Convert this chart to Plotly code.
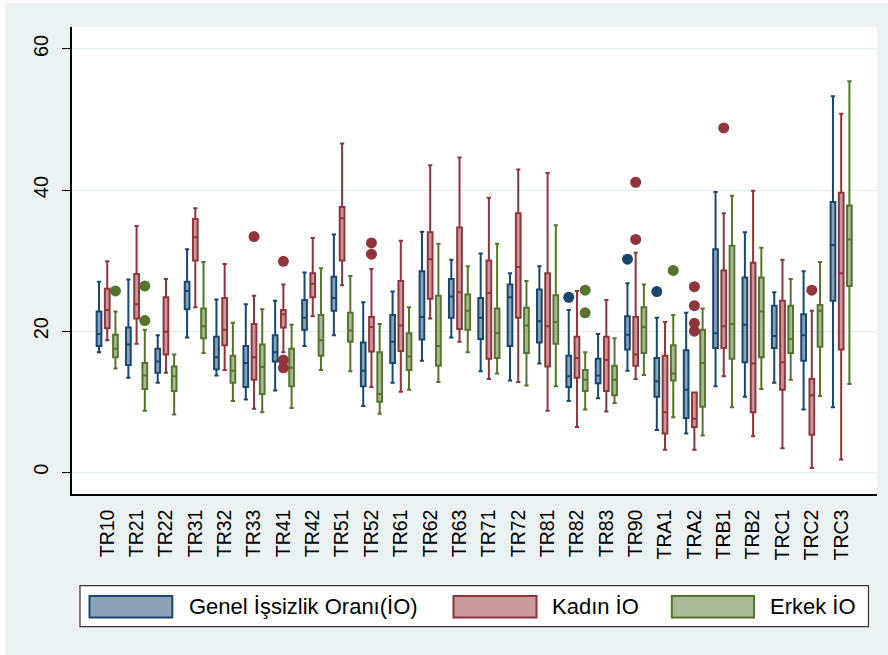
import plotly.graph_objects as go

categories = ["TR10", "TR21", "TR22", "TR31", "TR32", "TR33", "TR41", "TR42", "TR51", "TR52",
              "TR61", "TR62", "TR63", "TR71", "TR72", "TR81", "TR82", "TR83", "TR90", "TRA1",
              "TRA2", "TRB1", "TRB2", "TRC1", "TRC2", "TRC3"]

series_names = ["Genel İşsizlik Oranı(İO)", "Kadın İO", "Erkek İO"]

# Genel İşsizlik Oranı: lower whisker, q1, median, q3, upper whisker
genel_lo  = [17.0, 13.4, 12.7, 19.1, 13.7, 10.3, 11.6, 17.9, 19.4, 9.4, 12.7, 15.8, 19.1, 14.3, 13.0, 15.4, 10.1, 10.5, 14.4, 6.0, 5.5, 12.2, 10.7, 12.7, 8.9, 9.2]
genel_q1  = [17.9, 15.2, 14.1, 23.1, 14.6, 12.1, 15.7, 20.2, 22.9, 12.2, 15.5, 18.8, 21.9, 18.9, 17.9, 18.4, 12.1, 12.6, 17.4, 10.7, 7.7, 17.6, 15.6, 17.6, 15.8, 24.3]
genel_med = [19.6, 18.1, 15.7, 25.7, 16.3, 15.5, 17.0, 21.9, 24.7, 14.4, 18.5, 22.0, 24.9, 21.9, 24.8, 21.4, 13.6, 13.7, 19.5, 12.9, 11.7, 19.7, 20.9, 19.3, 19.4, 32.2]
genel_q3  = [22.8, 20.5, 17.5, 27.0, 19.2, 17.9, 19.4, 24.4, 27.7, 18.4, 22.3, 28.5, 27.4, 24.7, 26.6, 25.9, 16.5, 16.1, 22.1, 16.2, 17.3, 31.6, 27.6, 23.6, 22.4, 38.3]
genel_hi  = [27.0, 27.3, 19.4, 31.6, 24.5, 23.8, 24.3, 28.3, 33.7, 24.1, 25.6, 34.1, 30.1, 31.0, 28.2, 29.2, 23.0, 19.6, 26.8, 21.9, 22.6, 39.7, 34.0, 25.5, 28.5, 53.3]
genel_out_cat = ["TR82", "TR90", "TRA1"]
genel_out_val = [24.8, 30.2, 25.6]

# Kadın İO
kadin_lo  = [18.7, 18.2, 14.1, 23.4, 14.5, 9.0, 17.0, 22.1, 26.5, 12.1, 11.4, 21.8, 18.5, 13.2, 12.8, 8.7, 6.4, 8.6, 13.2, 3.2, 3.2, 13.6, 5.1, 3.4, 0.6, 1.8]
kadin_q1  = [20.4, 21.8, 16.7, 30.0, 18.0, 13.1, 20.5, 24.8, 30.0, 17.1, 17.2, 24.6, 20.3, 16.1, 21.9, 15.0, 13.4, 11.5, 15.1, 5.5, 6.4, 17.6, 8.5, 11.7, 5.3, 17.4]
kadin_med = [23.0, 23.8, 19.9, 33.3, 20.2, 16.3, 22.4, 26.7, 36.0, 20.6, 20.8, 30.2, 25.5, 25.4, 29.1, 20.7, 16.2, 15.9, 16.7, 8.5, 7.6, 20.7, 15.4, 15.6, 10.9, 28.2]
kadin_q3  = [26.0, 28.1, 24.8, 35.9, 24.7, 21.0, 23.0, 28.2, 37.6, 22.0, 27.1, 34.0, 34.7, 30.0, 36.7, 28.2, 19.2, 19.2, 22.0, 16.5, 11.3, 28.6, 29.7, 24.3, 13.2, 39.6]
kadin_hi  = [29.9, 34.9, 27.4, 37.4, 29.5, 25.0, 26.6, 33.2, 46.6, 28.8, 32.8, 43.5, 44.6, 38.9, 42.9, 42.4, 25.7, 24.4, 31.1, 21.3, 11.3, 36.7, 39.9, 30.1, 22.9, 50.8]
kadin_out_cat = ["TR33", "TR41", "TR41", "TR41", "TR52", "TR52", "TR90", "TR90",
                 "TRA2", "TRA2", "TRA2", "TRA2", "TRB1", "TRC2"]
kadin_out_val = [33.4, 29.9, 15.9, 14.8, 32.5, 30.9, 41.1, 33.0,
                 26.3, 23.6, 21.1, 20.0, 48.8, 25.8]

# Erkek İO
erkek_lo  = [14.7, 8.7, 8.2, 16.9, 10.1, 8.5, 9.1, 14.5, 14.3, 8.3, 11.7, 12.8, 17.0, 14.0, 12.3, 12.2, 8.9, 9.8, 13.8, 7.8, 5.2, 9.2, 11.8, 13.1, 10.8, 12.5]
erkek_q1  = [16.3, 11.8, 11.5, 19.0, 12.7, 11.1, 12.2, 16.5, 18.5, 10.0, 14.5, 15.1, 20.2, 16.2, 16.9, 18.2, 11.5, 10.9, 16.9, 13.0, 9.3, 16.1, 16.3, 16.9, 17.8, 26.4]
erkek_med = [17.5, 13.7, 13.6, 20.7, 14.4, 14.9, 14.8, 18.7, 20.1, 11.1, 16.4, 17.9, 22.9, 19.7, 20.8, 21.3, 13.1, 13.1, 20.6, 14.0, 15.5, 21.0, 22.8, 18.9, 22.9, 33.0]
erkek_q3  = [19.5, 15.5, 15.0, 23.2, 16.5, 18.1, 17.5, 22.3, 22.6, 17.0, 19.7, 25.0, 25.2, 23.2, 23.3, 25.1, 14.5, 15.1, 23.4, 18.0, 20.2, 32.1, 27.6, 23.6, 23.7, 37.8]
erkek_hi  = [22.8, 20.2, 16.7, 29.8, 21.2, 23.1, 20.9, 28.9, 27.8, 21.0, 23.4, 32.4, 29.2, 32.4, 27.1, 35.0, 17.0, 19.0, 26.6, 22.3, 23.2, 39.2, 31.8, 27.4, 29.8, 55.4]
erkek_out_cat = ["TR10", "TR21", "TR21", "TR82", "TR82", "TRA1"]
erkek_out_val = [25.7, 26.4, 21.5, 25.8, 22.6, 28.6]

yticks = [0, 20, 40, 60]

line_colors = ["#1a476f", "#90353b", "#55752f"]
fill_colors = ["rgba(26,71,111,0.5)", "rgba(144,53,59,0.5)", "rgba(85,117,47,0.5)"]
offsets = [-0.28, 0.0, 0.28]

series = [
    (genel_lo, genel_q1, genel_med, genel_q3, genel_hi, genel_out_cat, genel_out_val),
    (kadin_lo, kadin_q1, kadin_med, kadin_q3, kadin_hi, kadin_out_cat, kadin_out_val),
    (erkek_lo, erkek_q1, erkek_med, erkek_q3, erkek_hi, erkek_out_cat, erkek_out_val),
]

idx = {c: i for i, c in enumerate(categories)}

fig = go.Figure()
for k, (lo, q1, med, q3, hi, ocat, oval) in enumerate(series):
    xs = [i + offsets[k] for i in range(len(categories))]
    fig.add_trace(go.Box(
        x=xs, lowerfence=lo, q1=q1, median=med, q3=q3, upperfence=hi,
        width=0.16, whiskerwidth=0.9,
        line=dict(color=line_colors[k], width=2),
        fillcolor=fill_colors[k],
        name=series_names[k], showlegend=False, boxpoints=False,
    ))
for k, (lo, q1, med, q3, hi, ocat, oval) in enumerate(series):
    fig.add_trace(go.Scatter(
        x=[idx[c] + offsets[k] for c in ocat], y=oval, mode="markers",
        marker=dict(color=line_colors[k], size=11, line=dict(width=0)),
        showlegend=False, name=series_names[k],
    ))

L, R, T, B = 72, 877, 27, 494
W, H = 888, 655


def pxx(v):
    return (v - L) / (R - L)


def pxy(v):
    return (B - v) / (B - T)


shapes = [
    # white strips at image border
    dict(type="rect", xref="paper", yref="paper", x0=pxx(0), x1=pxx(5), y0=pxy(H), y1=pxy(0),
         fillcolor="white", line=dict(width=0), layer="below"),
    dict(type="rect", xref="paper", yref="paper", x0=pxx(0), x1=pxx(W), y0=pxy(3), y1=pxy(0),
         fillcolor="white", line=dict(width=0), layer="below"),
    # legend frame
    dict(type="rect", xref="paper", yref="paper", x0=pxx(80), x1=pxx(868.5), y0=pxy(626.7), y1=pxy(585.7),
         fillcolor="white", line=dict(color="#333333", width=1.2)),
]
annotations = []
sw = [(89.5, 172.3, 186.5), (453.5, 536.5, 550), (671.8, 754, 768.3)]
for k, (a, b, tx) in enumerate(sw):
    shapes.append(dict(type="rect", xref="paper", yref="paper", x0=pxx(a), x1=pxx(b),
                       y0=pxy(617.5), y1=pxy(596), fillcolor=fill_colors[k],
                       line=dict(color=line_colors[k], width=2)))
    annotations.append(dict(xref="paper", yref="paper", x=pxx(tx), y=pxy(606.5),
                            text=series_names[k], showarrow=False, xanchor="left", yanchor="middle",
                            font=dict(size=22, color="black", family="Liberation Sans")))

fig.update_layout(
    width=W, height=H,
    margin=dict(l=L, r=W - R, t=T, b=H - B),
    paper_bgcolor="#eaf2f3", plot_bgcolor="white",
    font=dict(family="Liberation Sans", color="black"),
    shapes=shapes, annotations=annotations,
    showlegend=False,
)
fig.update_xaxes(
    range=[-1.2, 26.22], tickmode="array", tickvals=list(range(len(categories))),
    ticktext=categories, tickangle=-90, tickfont=dict(size=19.5, color="black"),
    showgrid=False, zeroline=False, showline=True, linecolor="black", linewidth=1.5,
    ticks="", ticklabelstandoff=6,
)
fig.update_yaxes(
    range=[-3.08, 63.1], tickmode="array", tickvals=yticks, ticktext=[str(v) for v in yticks],
    tickangle=-90, tickfont=dict(size=20, color="black"),
    showgrid=True, gridcolor="#e3edef", gridwidth=1.2, zeroline=False,
    showline=True, linecolor="black", linewidth=1.5,
    ticks="outside", ticklen=8, tickwidth=1.2, tickcolor="black", ticklabelstandoff=6,
)

fig.write_html("out.html", config={"displayModeBar": False},
               post_script="document.body.style.margin='0';")
